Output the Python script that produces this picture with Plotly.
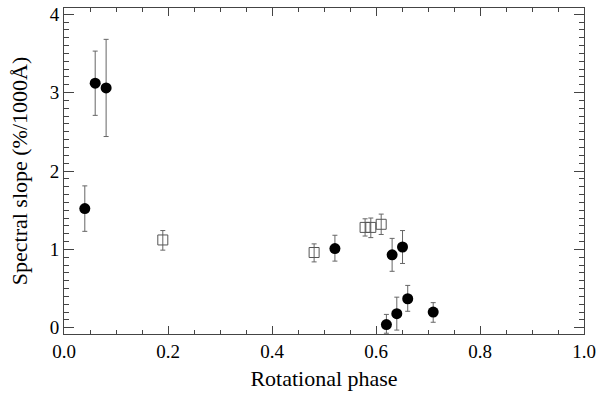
import plotly.graph_objects as go

# Filled circles
circ_x = [0.04, 0.06, 0.081, 0.521, 0.620, 0.631, 0.640, 0.651, 0.661, 0.710]
circ_y = [1.52, 3.12, 3.06, 1.01, 0.04, 0.93, 0.18, 1.03, 0.37, 0.20]
circ_up = [1.81, 3.53, 3.68, 1.18, 0.17, 1.14, 0.39, 1.24, 0.54, 0.32]
circ_lo = [1.23, 2.71, 2.44, 0.85, -0.07, 0.72, -0.03, 0.82, 0.21, 0.07]

# Open squares
sq_x = [0.19, 0.481, 0.579, 0.590, 0.610]
sq_y = [1.12, 0.96, 1.28, 1.28, 1.32]
sq_up = [1.24, 1.07, 1.39, 1.40, 1.45]
sq_lo = [0.99, 0.84, 1.17, 1.15, 1.19]

x_ticks = [0.0, 0.2, 0.4, 0.6, 0.8, 1.0]
y_ticks = [0, 1, 2, 3, 4]

font = "Liberation Serif, Times New Roman, serif"
errc = "#666666"

fig = go.Figure()
fig.add_trace(go.Scatter(
    x=sq_x, y=sq_y, mode="markers",
    marker=dict(symbol="square-open", size=10, color="#555555", line=dict(width=1, color="#555555")),
    error_y=dict(type="data", symmetric=False,
                 array=[u - v for u, v in zip(sq_up, sq_y)],
                 arrayminus=[v - l for v, l in zip(sq_y, sq_lo)],
                 color=errc, thickness=1, width=2.5),
    showlegend=False, cliponaxis=False))
fig.add_trace(go.Scatter(
    x=circ_x, y=circ_y, mode="markers",
    marker=dict(symbol="circle", size=11, color="black", line=dict(width=0)),
    error_y=dict(type="data", symmetric=False,
                 array=[u - v for u, v in zip(circ_up, circ_y)],
                 arrayminus=[v - l for v, l in zip(circ_y, circ_lo)],
                 color=errc, thickness=1, width=2.5),
    showlegend=False, cliponaxis=False))

axis_common = dict(showgrid=False, zeroline=False, showline=True, linecolor="#444444", linewidth=1,
                   mirror="allticks", ticks="inside", tickcolor="#444444", tickwidth=1,
                   tickfont=dict(family=font, size=19, color="black"))

fig.update_xaxes(range=[0, 1], tickvals=x_ticks, ticktext=[f"{v:.1f}" for v in x_ticks], ticklen=8,
                 minor=dict(dtick=0.05, ticklen=4, ticks="inside", tickcolor="#444444"),
                 title=dict(text="Rotational phase", font=dict(family=font, size=22, color="black"), standoff=9),
                 **axis_common)
fig.update_yaxes(range=[-0.08, 4.08], tickvals=y_ticks, ticktext=[str(v) for v in y_ticks], ticklen=10,
                 minor=dict(dtick=0.1, tick0=0, ticklen=5, ticks="inside", tickcolor="#444444"),
                 title=dict(text="Spectral slope (%/1000Å)", font=dict(family=font, size=22, color="black"), standoff=16),
                 **axis_common)

fig.update_layout(width=600, height=395, margin=dict(l=64, r=13, t=4, b=61),
                  plot_bgcolor="white", paper_bgcolor="white", font=dict(family=font))
fig.write_html("out.html", config={"displayModeBar": False},
               post_script="document.body.style.margin='0px';document.body.style.padding='0px';")
